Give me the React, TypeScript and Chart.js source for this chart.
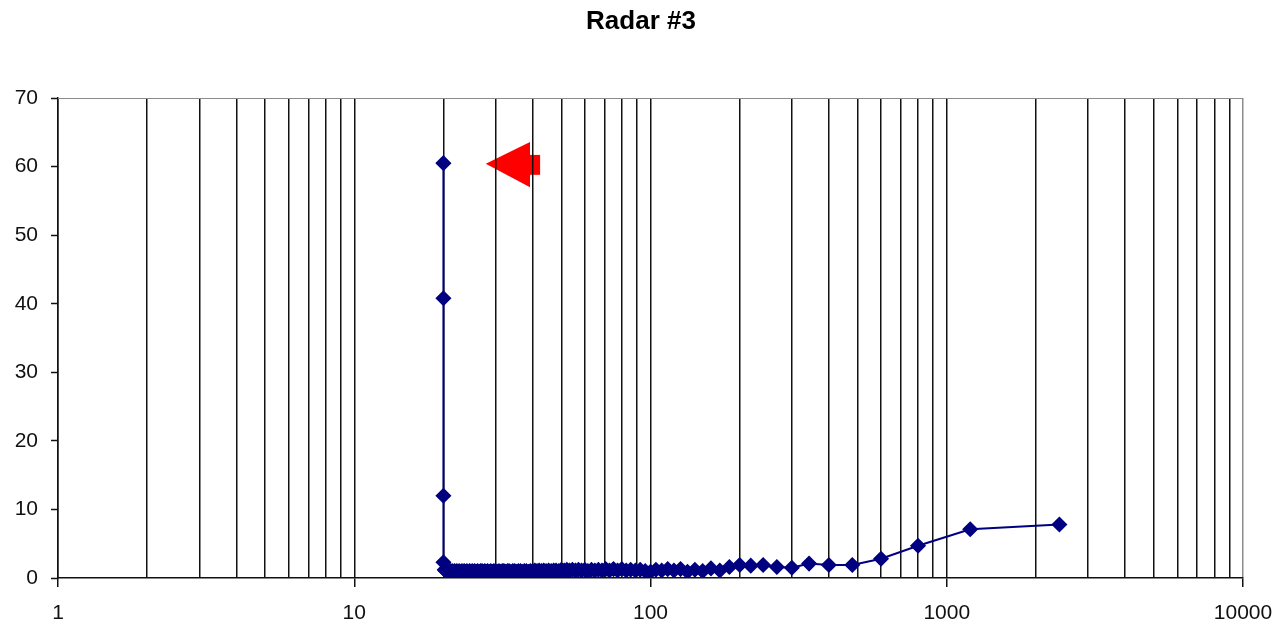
import React, { useEffect, useRef } from 'react';
import { Chart, registerables } from 'chart.js';

Chart.register(...registerables);

const TITLE = 'Radar #3';
const FONT_FAMILY = '"Liberation Sans", Arial, sans-serif';

// Series: x (log axis) and y values
const X_VALUES = [
  20, 20, 20, 20, 20.2, 20.3, 20.5, 20.7, 20.9, 21.1, 21.2, 21.4, 21.6, 21.8, 22.0, 22.2, 22.4, 22.6, 22.9,
  23.1, 23.3, 23.5, 23.8, 24.0, 24.2, 24.5, 24.7, 25.0, 25.3, 25.5, 25.8, 26.1, 26.4, 26.7, 27.0, 27.3,
  27.6, 27.9, 28.2, 28.6, 28.9, 29.3, 29.6, 30.0, 30.4, 30.8, 31.2, 31.6, 32.0, 32.4, 32.9, 33.3, 33.8,
  34.3, 34.8, 35.3, 35.8, 36.4, 36.9, 37.5, 38.1, 38.7, 39.3, 40.0, 40.7, 41.4, 42.1, 42.9, 43.6, 44.4,
  45.3, 46.2, 47.1, 48.0, 49.0, 50.0, 51.1, 52.2, 53.3, 54.5, 55.8, 57.1, 58.5, 60.0, 61.5, 63.2, 64.9,
  66.7, 68.6, 70.6, 72.7, 75.0, 77.4, 80.0, 82.8, 85.7, 88.9, 92.3, 96.0, 100, 104.3, 109.1, 114.3, 120,
  126.3, 133.3, 141.2, 150, 160, 171.4, 184.6, 200, 218, 240, 267, 300, 343, 400, 480, 600, 800, 1200, 2400,
];
const Y_VALUES = [
  60.5, 40.8, 12.0, 2.3, 1.2, 1.1, 1.0, 1.0, 0.9, 1.0, 0.9, 1.0, 0.9, 1.0, 0.9, 1.0, 0.9, 1.0, 0.9,
  1.0, 0.9, 1.0, 0.9, 1.0, 0.9, 1.0, 0.9, 1.0, 0.9, 1.0, 0.9, 1.0, 0.9, 1.0, 1.0, 0.9,
  1.0, 0.9, 1.0, 0.9, 1.0, 0.9, 1.0, 1.0, 0.9, 1.0, 0.9, 1.0, 1.0, 0.9, 1.0, 1.0, 0.9,
  1.0, 1.0, 0.9, 1.0, 1.0, 0.9, 1.0, 1.0, 0.9, 1.0, 1.0, 1.1, 1.0, 1.1, 1.0, 1.1, 1.0,
  1.1, 1.0, 1.1, 1.1, 1.0, 1.2, 1.1, 1.2, 1.1, 1.2, 1.1, 1.2, 1.1, 1.2, 1.0, 1.2, 1.1,
  1.2, 1.1, 1.3, 1.1, 1.3, 1.1, 1.3, 1.1, 1.2, 1.1, 1.2, 1.0, 0.9, 1.2, 1.1, 1.3, 1.1,
  1.3, 0.9, 1.2, 1.0, 1.4, 1.1, 1.6, 1.9, 1.8, 1.9, 1.6, 1.5, 2.1, 1.9, 1.9, 2.8, 4.7, 7.1, 7.8,
];

const X_MIN = 1;
const X_MAX = 10000;
const X_TICKS = [
  1, 2, 3, 4, 5, 6, 7, 8, 9,
  10, 20, 30, 40, 50, 60, 70, 80, 90,
  100, 200, 300, 400, 500, 600, 700, 800, 900,
  1000, 2000, 3000, 4000, 5000, 6000, 7000, 8000, 9000,
  10000,
];
const X_LABELS = [1, 10, 100, 1000, 10000];
const Y_MIN = 0;
const Y_MAX = 70;
const Y_STEP = 10;

// Red arrow annotation, in data coordinates
const ARROW_TRIANGLE = [
  [27.8, 60.4],
  [39.2, 63.6],
  [39.2, 57.0],
];
const ARROW_TAIL = [
  [39.2, 61.7],
  [42.4, 58.8],
];

const decorPlugin = {
  id: 'decor',
  beforeDraw(chart: any) {
    const { ctx } = chart;
    const xs = chart.scales.x;
    const ys = chart.scales.y;
    ctx.save();
    ctx.fillStyle = '#ff0000';
    ctx.beginPath();
    ARROW_TRIANGLE.forEach(([a, b], i) => {
      const px = xs.getPixelForValue(a);
      const py = ys.getPixelForValue(b);
      if (i === 0) ctx.moveTo(px, py);
      else ctx.lineTo(px, py);
    });
    ctx.closePath();
    ctx.fill();
    const l = xs.getPixelForValue(ARROW_TAIL[0][0]);
    const r = xs.getPixelForValue(ARROW_TAIL[1][0]);
    const t = ys.getPixelForValue(ARROW_TAIL[0][1]);
    const b = ys.getPixelForValue(ARROW_TAIL[1][1]);
    ctx.fillRect(l - 1, t, r - l + 1, b - t);
    ctx.restore();
  },
  afterDraw(chart: any) {
    const { ctx, chartArea, width } = chart;
    ctx.save();
    ctx.strokeStyle = '#8c8c8c';
    ctx.lineWidth = 1;
    ctx.beginPath();
    ctx.moveTo(chartArea.left, Math.round(chartArea.top) + 0.5);
    ctx.lineTo(chartArea.right, Math.round(chartArea.top) + 0.5);
    ctx.stroke();
    // title, centred on the whole canvas
    ctx.fillStyle = '#000';
    ctx.font = `bold 26px ${FONT_FAMILY}`;
    ctx.textAlign = 'center';
    ctx.textBaseline = 'middle';
    ctx.fillText(TITLE, width / 2, 22);
    ctx.restore();
  },
};

export default function App() {
  const canvasRef = useRef<HTMLCanvasElement | null>(null);

  useEffect(() => {
    if (!canvasRef.current) return;
    const data = X_VALUES.map((x, i) => ({ x, y: Y_VALUES[i] }));
    const chart = new Chart(canvasRef.current, {
      type: 'scatter',
      data: {
        datasets: [
          {
            label: TITLE,
            data,
            showLine: true,
            borderColor: '#000080',
            borderWidth: 2,
            backgroundColor: '#000080',
            pointBackgroundColor: '#000080',
            pointBorderColor: '#000080',
            pointStyle: 'rectRot',
            pointRadius: 7,
            pointBorderWidth: 1.5,
          },
        ],
      },
      options: {
        animation: false,
        responsive: true,
        maintainAspectRatio: false,
        layout: { padding: { left: 0, right: 39, top: 98, bottom: 0 } },
        plugins: {
          legend: { display: false },
          tooltip: { enabled: false },
          title: { display: false },
        },
        scales: {
          x: {
            type: 'logarithmic',
            min: X_MIN,
            max: X_MAX,
            afterBuildTicks: (scale: any) => {
              scale.ticks = X_TICKS.map((v) => ({ value: v, major: X_LABELS.includes(v) }));
            },
            afterFit: (scale: any) => {
              scale.height = 49;
              scale.paddingLeft = 0;
              scale.paddingRight = 0;
            },
            ticks: {
              autoSkip: false,
              maxRotation: 0,
              minRotation: 0,
              color: '#111',
              padding: 14,
              font: { family: FONT_FAMILY, size: 21 },
              callback: (v: any) => (X_LABELS.includes(Number(v)) ? String(v) : ''),
            },
            grid: {
              color: (c: any) => (c.tick && c.tick.value === X_MAX ? '#8c8c8c' : '#111'),
              lineWidth: 1.5,
              tickLength: 9,
              tickWidth: 1.5,
              tickColor: (c: any) => (c.tick && X_LABELS.includes(c.tick.value) ? '#111' : 'rgba(0,0,0,0)'),
            },
            border: { display: true, color: '#111', width: 1.5 },
          },
          y: {
            type: 'linear',
            min: Y_MIN,
            max: Y_MAX,
            afterFit: (scale: any) => {
              scale.width = 58;
              scale.paddingTop = 0;
              scale.paddingBottom = 0;
            },
            ticks: {
              stepSize: Y_STEP,
              color: '#111',
              padding: 13,
              font: { family: FONT_FAMILY, size: 21 },
            },
            grid: {
              drawOnChartArea: false,
              drawTicks: true,
              tickLength: 7,
              tickWidth: 1.5,
              tickColor: '#111',
            },
            border: { display: true, color: '#111', width: 1.5 },
          },
        },
      },
      plugins: [decorPlugin],
    } as any);
    return () => chart.destroy();
  }, []);

  return (
    <div style={{ position: 'absolute', left: 0, top: 0, width: 1282, height: 627, background: '#fff' }}>
      <canvas ref={canvasRef} />
    </div>
  );
}
